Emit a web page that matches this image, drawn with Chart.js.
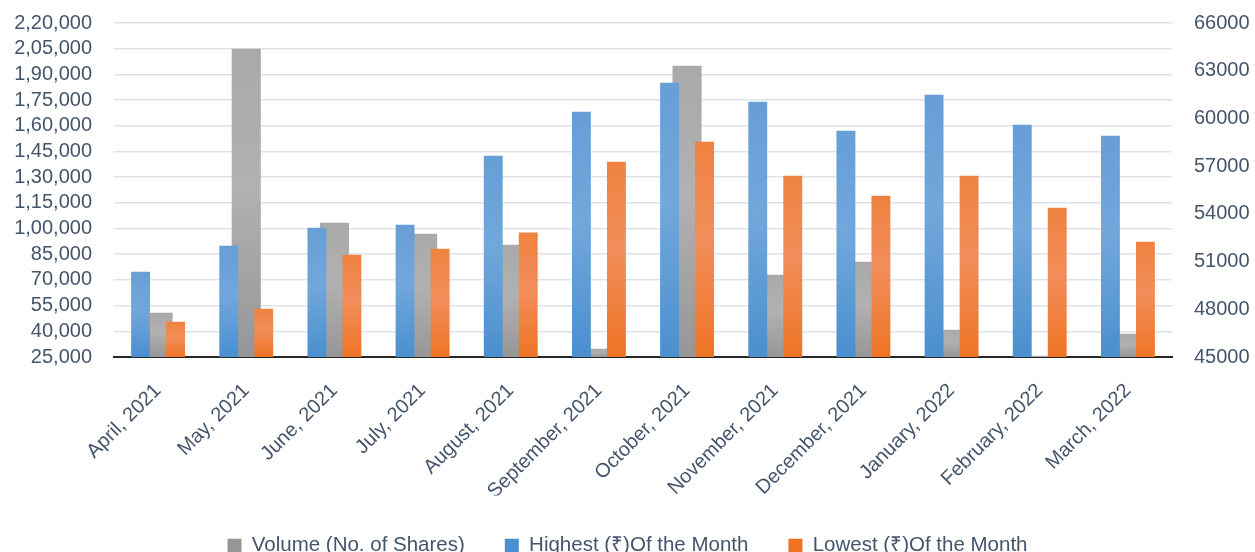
<!DOCTYPE html>
<html><head><meta charset="utf-8">
<script src="https://cdn.jsdelivr.net/npm/chart.js@4.4.1/dist/chart.umd.min.js"></script>
<style>html,body{margin:0;padding:0;background:#fff}#wrap{width:1255px;height:552px;position:relative}</style>
</head><body><div id="wrap"><canvas id="c"></canvas></div>
<script>
const categories = ['April, 2021','May, 2021','June, 2021','July, 2021','August, 2021','September, 2021','October, 2021','November, 2021','December, 2021','January, 2022','February, 2022','March, 2022'];
const volumeShares = [50860, 205000, 103410, 96990, 90570, 29850, 195070, 73050, 80640, 40940, 25800, 38600];
const highestOfMonth = [50360, 52000, 53130, 53320, 57660, 60420, 62250, 61050, 59230, 61490, 59610, 58910];
const lowestOfMonth = [47220, 48040, 51430, 51810, 52820, 57280, 58540, 56400, 55140, 56400, 54390, 52250];
const leftTickLabels = ['25,000','40,000','55,000','70,000','85,000','1,00,000','1,15,000','1,30,000','1,45,000','1,60,000','1,75,000','1,90,000','2,05,000','2,20,000'];
const rightTickLabels = ['45000','48000','51000','54000','57000','60000','63000','66000'];

const TEXT = '#44546A';
const FONT = "'Liberation Sans', Arial, sans-serif";

function barGradient(axisId, cTop, cMid, cBot, solid) {
  return (ctx) => {
    if (ctx.type !== 'data') return solid;
    const chart = ctx.chart, area = chart.chartArea, sc = chart.scales[axisId];
    if (!area || !sc) return solid;
    const yTop = sc.getPixelForValue(ctx.raw);
    const yBot = area.bottom;
    if (!isFinite(yTop) || yBot - yTop < 1) return solid;
    const g = chart.ctx.createLinearGradient(0, yTop, 0, yBot);
    g.addColorStop(0, cTop); g.addColorStop(0.45, cMid); g.addColorStop(1, cBot);
    return g;
  };
}

new Chart(document.getElementById('c'), {
  type: 'bar',
  data: {
    labels: categories,
    datasets: [
      { label: 'Volume (No. of Shares)', data: volumeShares, yAxisID: 'yL', order: 2, grouped: false,
        categoryPercentage: 1, barPercentage: 0.33,
        backgroundColor: barGradient('yL', '#A8A9A9', '#B1B1B1', '#969696', '#8F8F8F'), borderWidth: 0 },
      { label: 'Highest (₹)Of the Month', data: highestOfMonth, yAxisID: 'yR', order: 0,
        categoryPercentage: 0.794, barPercentage: 0.54,
        backgroundColor: barGradient('yR', '#679ED6', '#71A7DB', '#4A8FCF', '#4A8BD0'), borderWidth: 0 },
      { label: 'Lowest (₹)Of the Month', data: lowestOfMonth, yAxisID: 'yR', order: 1,
        categoryPercentage: 0.794, barPercentage: 0.54,
        backgroundColor: barGradient('yR', '#EE8240', '#F28D5A', '#EE7424', '#E8702A'), borderWidth: 0 }
    ]
  },
  options: {
    responsive: true,
    maintainAspectRatio: false,
    animation: false,
    layout: { padding: { top: 23, left: 0, right: 0, bottom: -14 } },
    plugins: {
      tooltip: { enabled: false },
      legend: {
        position: 'bottom',
        labels: {
          sort: (a, b) => a.datasetIndex - b.datasetIndex,
          boxWidth: 14, boxHeight: 14, padding: 40,
          color: TEXT, font: { family: FONT, size: 20.5 }
        }
      }
    },
    scales: {
      x: {
        grid: { display: false },
        border: { display: true, color: '#262626', width: 2 },
        ticks: { color: TEXT, font: { family: FONT, size: 20 }, minRotation: 45, maxRotation: 45, padding: 14, autoSkip: false },
        afterFit: (s) => { s.height = 138.5; }
      },
      yL: {
        position: 'left', min: 25000, max: 220000,
        ticks: { stepSize: 15000, autoSkip: false, color: TEXT, font: { family: FONT, size: 20 }, padding: 0,
          callback: (v, i) => leftTickLabels[i] },
        grid: { drawTicks: true, tickLength: 22, tickColor: 'rgba(0,0,0,0)', lineWidth: 1.5,
          color: (c) => c.index === 0 ? 'rgba(0,0,0,0)' : '#DEE3E9' },
        border: { display: false },
        afterFit: (s) => { s.width = 114; }
      },
      yR: {
        position: 'right', min: 45000, max: 66000,
        ticks: { stepSize: 3000, autoSkip: false, color: TEXT, font: { family: FONT, size: 20 }, padding: 0,
          callback: (v, i) => rightTickLabels[i] },
        grid: { display: true, drawOnChartArea: false, drawTicks: true, tickLength: 22, tickColor: 'rgba(0,0,0,0)', color: 'rgba(0,0,0,0)' },
        border: { display: false },
        afterFit: (s) => { s.width = 83; }
      }
    }
  }
});
</script>
</body></html>
